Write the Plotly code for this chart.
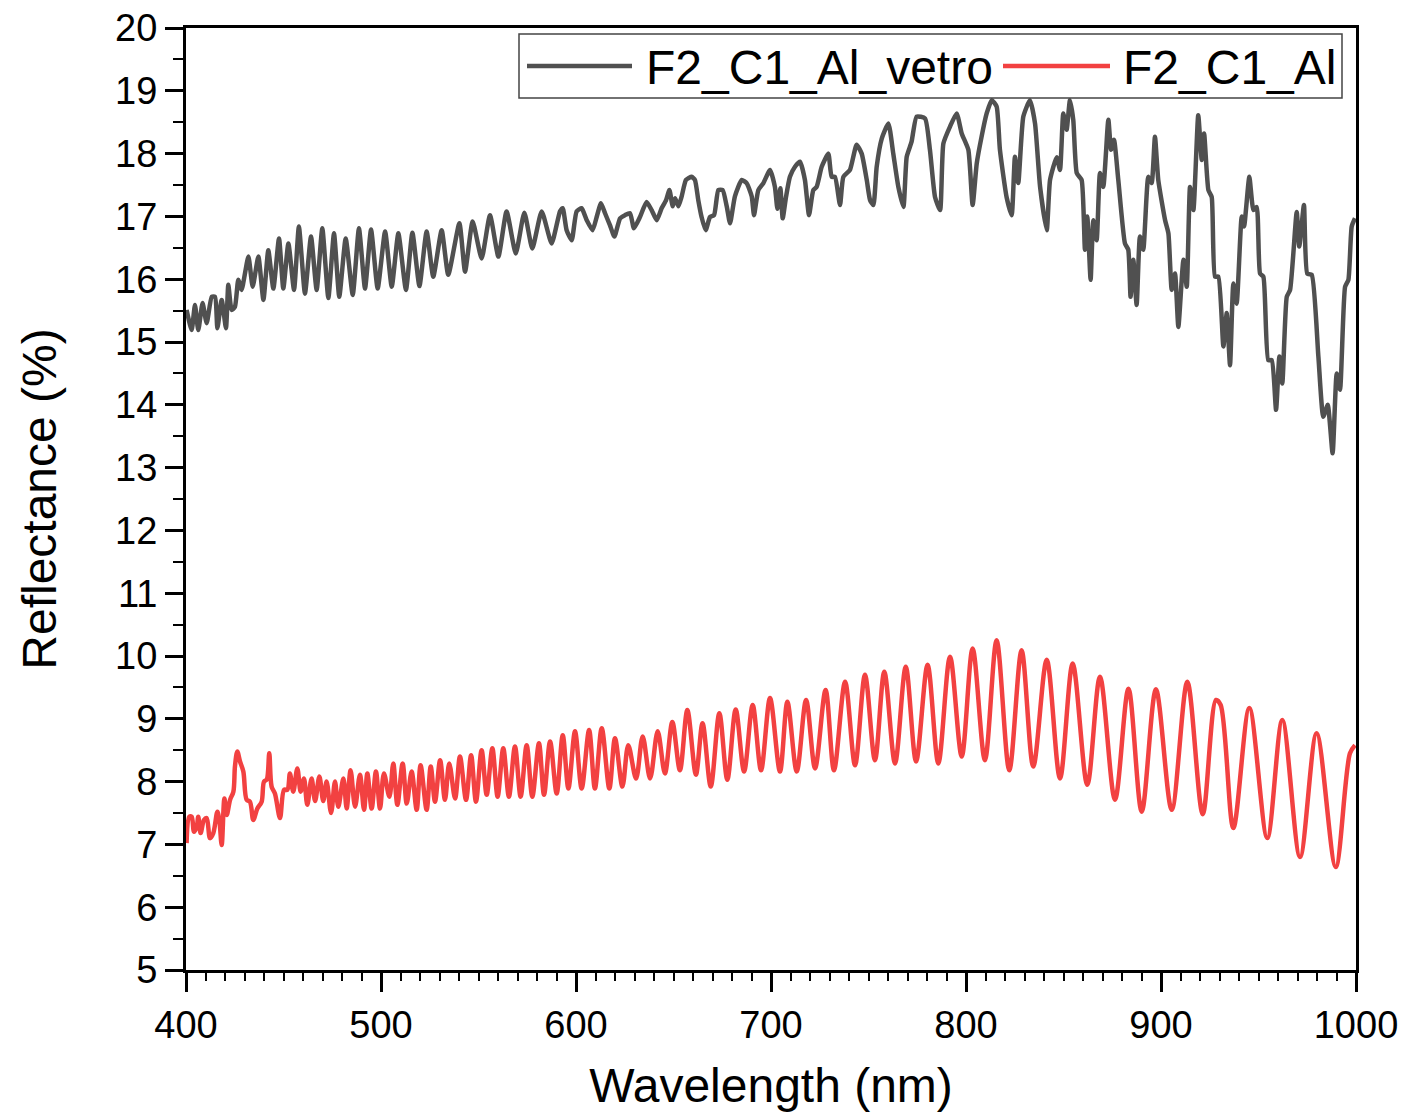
import plotly.graph_objects as go

# ---------------- data ----------------
gray_x = [400.3, 402.9, 404.6, 406.3, 408.5, 410.6, 413.2, 414.9, 416.1, 418.3, 420.5, 421.7, 423.4, 425.1,
          426.8, 428.5, 432.0, 434.2, 437.1, 439.7, 442.2, 444.8, 447.7, 449.9, 452.5, 455.4, 457.9, 461.0,
          464.1, 467.0, 469.9, 473.0, 475.9, 478.6, 481.9, 485.5, 488.7, 491.8, 494.9, 498.3, 502.1, 505.5,
          508.9, 512.8, 516.1, 519.7, 523.4, 526.8, 531.1, 534.5, 540.2, 543.1,
          547.0, 551.6, 555.9, 560.2, 564.4, 569.1, 573.5, 577.6, 582.4, 587.5,
          591.8, 593.2, 595.2, 597.8, 600.3, 602.9, 605.5, 608.5, 610.6, 612.8, 614.9, 617.4, 619.7, 622.6,
          625.1, 627.7, 629.7, 632.8, 636.2, 638.8, 641.4, 643.9, 646.2, 647.9, 649.6, 650.8, 652.5, 654.2,
          656.4, 659.3, 661.0, 662.7, 664.4, 666.5, 668.7, 670.8, 673.0, 675.2, 677.3, 679.0, 681.5, 685.0,
          687.5, 690.1, 691.3, 693.5, 696.1, 699.5, 702.0, 703.3, 704.8,
          706.0, 707.7, 709.7, 712.3, 714.9, 717.4, 719.5, 721.7, 723.4,
          726.0, 729.4, 731.1, 732.8, 735.4, 737.1, 740.5, 743.9, 746.5, 749.1, 750.8, 752.5, 754.2, 756.8,
          760.2, 762.7, 765.3, 767.9, 769.6, 772.1, 774.7, 779.0, 781.5, 784.1, 786.7, 788.4, 791.8, 795.2,
          797.8, 801.2, 803.4, 805.5, 808.0, 810.6, 813.2, 815.7, 817.4, 820.8, 823.4, 825.1, 826.8, 829.4,
          832.8, 835.4, 838.0, 841.4,
          843.1, 846.5, 848.2, 849.9, 851.6, 853.3, 855.0, 856.8, 859.3, 861.0, 862.2, 863.9, 865.3, 867.0,
          868.7, 870.4, 873.0, 874.4, 875.9, 878.1, 881.5, 883.2, 884.4, 885.8, 887.5, 889.2, 890.9, 893.5,
          895.2, 896.9, 898.6, 902.1, 903.8, 905.5, 907.2, 908.9, 911.5, 913.2, 914.9, 916.6, 919.1, 920.9,
          922.1, 924.3, 926.0, 927.7, 929.4, 932.0, 933.7, 935.4, 937.1, 938.8, 941.4, 942.6, 945.3, 947.4,
          949.1, 950.8, 952.5, 955.0, 956.8, 959.0, 960.7, 962.2, 964.5, 966.2, 969.6, 970.9, 973.3, 975.0,
          977.3, 980.7, 983.2, 985.5, 988.0, 990.1, 991.8, 994.4, 996.1, 997.8, 999.5]
gray_y = [15.51, 15.19, 15.59, 15.19, 15.62, 15.30, 15.72, 15.72, 15.22, 15.67, 15.22, 15.91, 15.51, 15.56,
          15.99, 15.83, 16.36, 15.88, 16.36, 15.67, 16.46, 15.85, 16.65, 15.85, 16.57, 15.83, 16.84, 15.77,
          16.68, 15.83, 16.81, 15.70, 16.73, 15.72, 16.65, 15.75, 16.81, 15.85, 16.79, 15.85, 16.76, 15.88,
          16.73, 15.83, 16.74, 15.89, 16.76, 16.04, 16.78, 16.07, 16.89, 16.12,
          16.92, 16.33, 17.02, 16.36, 17.08, 16.41, 17.06, 16.49, 17.08, 16.57,
          17.08, 17.13, 16.78, 16.62, 17.08, 17.13, 16.94, 16.78, 16.99, 17.21, 17.05, 16.86, 16.68, 16.97,
          17.02, 17.05, 16.81, 16.99, 17.23, 17.10, 16.94, 17.13, 17.26, 17.42, 17.16, 17.29, 17.16, 17.32,
          17.58, 17.63, 17.58, 17.26, 16.99, 16.78, 16.99, 17.02, 17.42, 17.42, 17.16, 16.89, 17.32, 17.58,
          17.53, 17.32, 17.02, 17.42, 17.53, 17.74, 17.47, 17.12, 17.45,
          16.97, 17.31, 17.63, 17.79, 17.87, 17.58, 17.02, 17.42, 17.47,
          17.79, 18.00, 17.63, 17.63, 17.18, 17.63, 17.74, 18.14, 18.00, 17.58, 17.26, 17.18, 17.79, 18.24,
          18.48, 18.00, 17.47, 17.15, 17.95, 18.19, 18.59, 18.56, 18.06, 17.31, 17.10, 18.16, 18.43, 18.64,
          18.32, 18.06, 17.18, 17.84, 18.27, 18.64, 18.85, 18.75, 18.06, 17.31, 17.02, 17.95, 17.53, 18.59,
          18.85, 18.48, 17.47, 16.78,
          17.58, 17.94, 17.74, 18.64, 18.38, 18.85, 18.54, 17.69, 17.58, 16.47, 17.00, 15.99, 16.94, 16.62,
          17.69, 17.47, 18.54, 18.06, 18.22, 17.58, 16.57, 16.47, 15.72, 16.31, 15.59, 16.68, 16.47, 17.63,
          17.53, 18.27, 17.58, 16.94, 16.73, 15.83, 16.09, 15.24, 16.31, 15.88, 17.47, 17.10, 18.61, 17.90,
          18.32, 17.42, 17.31, 16.04, 16.04, 14.93, 15.46, 14.63, 15.93, 15.61, 17.00, 16.84, 17.63, 17.10,
          17.15, 16.09, 16.04, 14.71, 14.71, 13.92, 14.77, 14.34, 15.72, 15.83, 17.07, 16.52, 17.18, 16.09,
          16.07, 14.77, 13.81, 14.00, 13.23, 14.50, 14.24, 15.88, 15.99, 16.84, 16.97]

red_x = [400.3, 401.7, 402.9, 404.1, 405.5, 406.3, 407.5, 409.2, 410.6, 412.3, 414.0, 416.1, 417.1, 418.3,
         419.7, 420.9, 422.6, 424.3, 425.1, 426.3, 427.7, 429.4, 431.1, 432.8, 434.5, 436.6, 438.8, 440.0,
         441.4, 442.7, 443.9, 445.6, 448.2, 450.3, 452.0, 453.3, 455.0, 457.1, 458.8, 460.5, 462.2, 464.4,
         466.2, 468.4, 470.4, 472.1, 474.4, 476.4, 478.1, 480.7, 482.4, 484.4, 486.7, 489.2, 491.3, 493.0,
         495.2, 497.4, 499.5, 501.5, 504.3, 506.3, 508.4, 511.1, 513.2, 515.7, 518.3, 520.3, 523.4, 525.5,
         527.7, 530.3, 532.8, 535.0, 538.0, 540.5, 543.6, 546.2,
         548.7, 551.6, 554.2, 557.1, 559.8, 562.7, 565.6, 568.7, 571.6, 574.7, 577.6, 581.0, 583.6, 586.7,
         590.1, 593.2, 596.1, 599.5, 602.9, 606.7, 609.7, 613.2, 617.1, 620.0, 623.8, 626.8, 630.8, 634.2,
         638.0, 641.9, 645.6, 649.4, 653.3, 657.1, 661.5, 664.9, 669.1, 673.5, 677.6, 681.9, 686.2, 690.6,
         694.9,
         699.5, 704.6, 708.4, 713.2, 718.0, 722.6, 728.0, 732.3, 738.0, 743.1, 748.2, 753.3, 758.1, 763.6,
         769.1, 774.4, 780.3, 785.8, 791.8, 797.8, 803.4, 809.7, 815.7, 822.2, 828.5, 834.5, 841.4, 848.2,
         854.7, 862.2, 868.7, 876.4, 883.3, 890.1, 897.4, 905.5, 913.5, 921.4, 928.2, 930.6, 937.1, 945.3,
         954.5, 962.2, 971.3, 979.8, 989.6, 996.9, 999.5]
red_y = [7.02, 7.44, 7.44, 7.20, 7.28, 7.44, 7.18, 7.39, 7.42, 7.10, 7.18, 7.52, 7.39, 6.99,
         7.73, 7.47, 7.71, 7.84, 8.24, 8.48, 8.32, 8.16, 7.71, 7.68, 7.39, 7.57, 7.68, 8.00,
         8.03, 8.45, 7.92, 7.81, 7.42, 7.87, 7.87, 8.13, 7.84, 8.21, 7.84, 8.05, 7.63, 8.05,
         7.69, 8.08, 7.69, 8.00, 7.50, 8.00, 7.60, 8.05, 7.57, 8.18, 7.60, 8.11, 7.55, 8.13,
         7.57, 8.16, 7.57, 8.13, 7.76, 8.29, 7.63, 8.29, 7.65, 8.16, 7.55, 8.26, 7.55, 8.24,
         7.68, 8.34, 7.71, 8.29, 7.73, 8.40, 7.71, 8.42,
         7.68, 8.50, 7.79, 8.53, 7.76, 8.53, 7.76, 8.56, 7.76, 8.58, 7.76, 8.61, 7.79, 8.64,
         7.81, 8.74, 7.89, 8.80, 7.89, 8.82, 7.89, 8.85, 7.89, 8.69, 7.92, 8.58, 8.05, 8.72,
         8.05, 8.80, 8.13, 8.95, 8.18, 9.14, 8.11, 8.93, 7.92, 9.09, 8.03, 9.15, 8.16, 9.22,
         8.18,
         9.33, 8.16, 9.27, 8.16, 9.30, 8.21, 9.46, 8.18, 9.59, 8.26, 9.70, 8.34, 9.75, 8.29,
         9.83, 8.32, 9.86, 8.29, 9.99, 8.40, 10.12, 8.34, 10.25, 8.18, 10.09, 8.24, 9.94, 8.05,
         9.88, 7.95, 9.67, 7.71, 9.48, 7.52, 9.47, 7.55, 9.59, 7.48, 9.30, 9.22, 7.26, 9.17,
         7.10, 8.98, 6.80, 8.77, 6.64, 8.45, 8.58]

series_names = ["F2_C1_Al_vetro", "F2_C1_Al"]
series_colors = ["#505050", "#F24141"]

x_ticks = [400, 500, 600, 700, 800, 900, 1000]
y_ticks = list(range(5, 21))

FONT = "Liberation Sans, Arial, sans-serif"
LW = 4.5

fig = go.Figure()
fig.add_trace(go.Scatter(x=gray_x, y=gray_y, mode="lines", name=series_names[0],
                         line=dict(color=series_colors[0], width=LW, shape="spline", smoothing=0.5),
                         showlegend=False))
fig.add_trace(go.Scatter(x=red_x, y=red_y, mode="lines", name=series_names[1],
                         line=dict(color=series_colors[1], width=LW, shape="spline", smoothing=0.9),
                         showlegend=False))

# plot-area helpers (pixel -> paper) for the hand-drawn legend
L, R, T, B = 186, 1356, 28, 970
def px(x):
    return (x - L) / (R - L)
def py(y):
    return (B - y) / (B - T)

shapes = [
    dict(type="rect", xref="paper", yref="paper", x0=px(519), x1=px(1342), y0=py(98), y1=py(34),
         line=dict(color="#444444", width=1.5), fillcolor="white", layer="above"),
    dict(type="line", xref="paper", yref="paper", x0=px(527), x1=px(632), y0=py(66), y1=py(66),
         line=dict(color=series_colors[0], width=LW), layer="above"),
    dict(type="line", xref="paper", yref="paper", x0=px(1003), x1=px(1110), y0=py(66), y1=py(66),
         line=dict(color=series_colors[1], width=LW), layer="above"),
]
annotations = [
    dict(text=series_names[0], xref="paper", yref="paper", x=px(644), y=py(67), xanchor="left",
         yanchor="middle", showarrow=False, font=dict(family=FONT, size=48, color="black")),
    dict(text=series_names[1], xref="paper", yref="paper", x=px(1121), y=py(67), xanchor="left",
         yanchor="middle", showarrow=False, font=dict(family=FONT, size=48, color="black")),
]

axis_common = dict(showline=True, linecolor="black", linewidth=3, mirror=True, showgrid=False,
                   zeroline=False, ticks="outside", tickcolor="black", tickwidth=3,
                   tickfont=dict(family=FONT, size=38, color="black"))

fig.update_layout(
    width=1409, height=1119,
    margin=dict(l=L, r=1409 - R, t=T, b=1119 - B, autoexpand=False),
    paper_bgcolor="white", plot_bgcolor="white",
    showlegend=False,
    shapes=shapes, annotations=annotations,
    xaxis=dict(range=[400, 1000], tickvals=x_ticks, ticklen=19,
               minor=dict(dtick=10, ticks="outside", ticklen=8, tickwidth=2, tickcolor="black", showgrid=False),
               title=dict(text="Wavelength (nm)", font=dict(family=FONT, size=48, color="black"), standoff=24),
               **axis_common),
    yaxis=dict(range=[5, 20], tickvals=y_ticks, ticklen=18,
               minor=dict(dtick=0.5, ticks="outside", ticklen=10, tickwidth=2, tickcolor="black", showgrid=False),
               title=dict(text="Reflectance (%)", font=dict(family=FONT, size=48, color="black"), standoff=44),
               **axis_common),
)

fig.write_html("out.html")
